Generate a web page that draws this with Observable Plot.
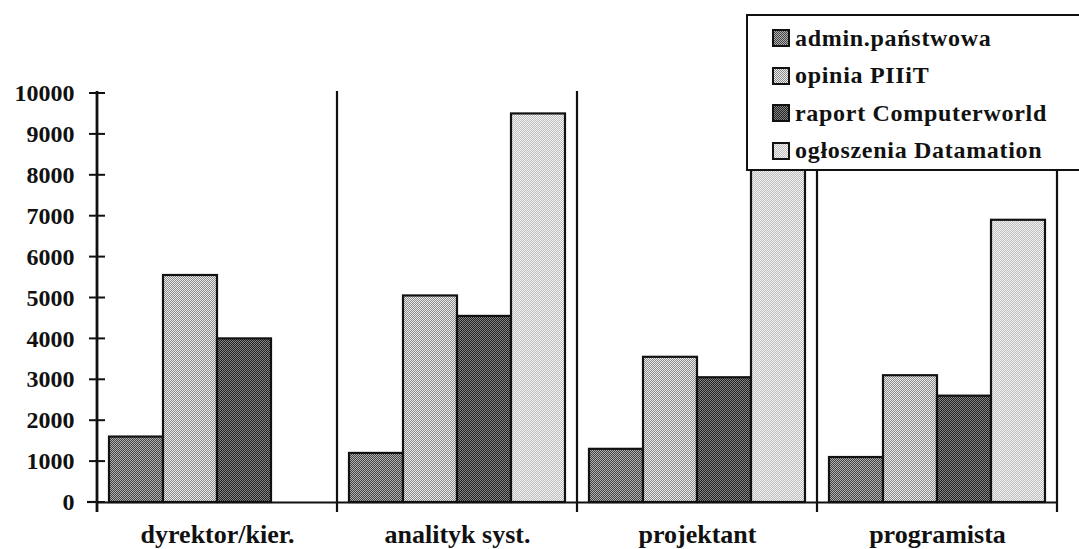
<!DOCTYPE html>
<html>
<head>
<meta charset="utf-8">
<script src="https://cdn.jsdelivr.net/npm/d3@7"></script>
<script src="https://cdn.jsdelivr.net/npm/@observablehq/plot@0.6"></script>
<style>
  html, body { margin: 0; padding: 0; background: #fff; overflow: hidden; }
  #wrap { position: relative; width: 1079px; height: 549px; font-family: "Liberation Serif", "Times New Roman", serif; }
  #legend { position: absolute; left: 746px; top: 14px; width: 340px; height: 157px; background: #fff; border: 2.5px solid #111; box-sizing: border-box; }
  .row { position: absolute; left: 24px; height: 30px; display: flex; align-items: center; font-weight: bold; font-size: 24px; color: #111; white-space: nowrap; letter-spacing: 0.7px; }
  .row svg { margin-right: 5px; }
</style>
</head>
<body>
<div id="wrap"><div id="chart"></div><div id="legend"></div></div>
<script>
// ---- data ----
const categories = ["dyrektor/kier.", "analityk syst.", "projektant", "programista"];
const series = ["admin.państwowa", "opinia PIIiT", "raport Computerworld", "ogłoszenia Datamation"];
const legendLabels = ["admin.państwowa", "opinia PIIiT", "raport Computerworld", "ogłoszenia Datamation"];
const adminValues      = [1600, 1200, 1300, 1100];
const opiniaValues     = [5550, 5050, 3550, 3100];
const raportValues     = [4000, 4550, 3050, 2600];
const datamationValues = [0, 9500, 8800, 6900];
const yTicks = [0, 1000, 2000, 3000, 4000, 5000, 6000, 7000, 8000, 9000, 10000];

const valuesBySeries = [adminValues, opiniaValues, raportValues, datamationValues];
const data = [];
categories.forEach((c, i) => series.forEach((s, j) => data.push({cat: c, series: s, value: valuesBySeries[j][i]})));

const patternIds = ["pAdmin", "pOpinia", "pRaport", "pData"];
const patternFills = patternIds.map(id => `url(#${id})`);

const font = "Liberation Serif, Times New Roman, serif";

const chart = Plot.plot({
  width: 1079,
  height: 549,
  marginLeft: 95,
  marginRight: 21,
  marginTop: 93,
  marginBottom: 47,
  style: {fontFamily: font, background: "white", color: "#111"},
  fx: {domain: categories, padding: 0, label: null},
  x: {domain: series, paddingInner: 0, paddingOuter: 0.2, axis: null},
  y: {domain: [0, 10000], axis: null, label: null},
  color: {type: "ordinal", domain: series, range: patternFills},
  marks: [
    Plot.barY(data, {fx: "cat", x: "series", y: "value", fill: "series", stroke: "#111", strokeWidth: 2.2}),
    Plot.ruleY([0], {stroke: "#111", strokeWidth: 2.2}),
    Plot.axisY({ticks: yTicks, tickSize: 0, tickPadding: 23, fontSize: 24, fontWeight: "bold", label: null, tickFormat: d => String(d)}),
    Plot.axisFx({anchor: "bottom", tickSize: 0, tickPadding: 22, fontSize: 26, fontWeight: "bold", label: null})
  ]
});

document.getElementById("chart").appendChild(chart);

// pattern definitions (halftone-like fills)
const svg = d3.select(chart);
const defs = svg.insert("defs", ":first-child");
const pats = [
  {id: "pAdmin",  bg: "#444444", fg: "#b0b0b0"},
  {id: "pOpinia", bg: "#888888", fg: "#eeeeee"},
  {id: "pRaport", bg: "#222222", fg: "#858585"},
  {id: "pData",   bg: "#bcbcbc", fg: "#f4f4f4"}
];
pats.forEach(p => {
  const pat = defs.append("pattern").attr("id", p.id).attr("patternUnits", "userSpaceOnUse").attr("width", 2).attr("height", 2);
  pat.append("rect").attr("width", 2).attr("height", 2).attr("fill", p.bg);
  pat.append("rect").attr("x", 0).attr("y", 0).attr("width", 1).attr("height", 1).attr("fill", p.fg);
  pat.append("rect").attr("x", 1).attr("y", 1).attr("width", 1).attr("height", 1).attr("fill", p.fg);
});

// category dividers and y-axis tick crosses, positioned with the plot's own scales
const fx = chart.scale("fx");
const y = chart.scale("y");
const g = svg.append("g").attr("stroke", "#111");
const y0 = y.apply(0), yTop = y.apply(10000);
const edges = categories.map(c => fx.apply(c)).concat([fx.apply(categories[categories.length - 1]) + fx.bandwidth]);
edges.forEach((ex, i) => {
  g.append("line").attr("x1", ex).attr("x2", ex).attr("y1", yTop - 2).attr("y2", y0 + 10).attr("stroke-width", i === 0 ? 2.8 : 2.2);
});
g.append("line").attr("x1", edges[0] - 10).attr("x2", edges[0]).attr("y1", y0).attr("y2", y0).attr("stroke-width", 2.2);
yTicks.forEach(t => {
  g.append("line").attr("x1", edges[0] - 8).attr("x2", edges[0] + 8).attr("y1", y.apply(t)).attr("y2", y.apply(t)).attr("stroke-width", 2);
});

// legend (overlapping the plot, as in the reference)
const legend = d3.select("#legend");
legendLabels.forEach((lab, i) => {
  const row = legend.append("div").attr("class", "row").style("top", (7 + i * 37.5) + "px");
  const sw = row.append("svg").attr("width", 18).attr("height", 18);
  sw.append("rect").attr("x", 1).attr("y", 1).attr("width", 16).attr("height", 16).attr("fill", patternFills[i]).attr("stroke", "#111").attr("stroke-width", 2);
  row.append("span").text(lab);
});
</script>
</body>
</html>
